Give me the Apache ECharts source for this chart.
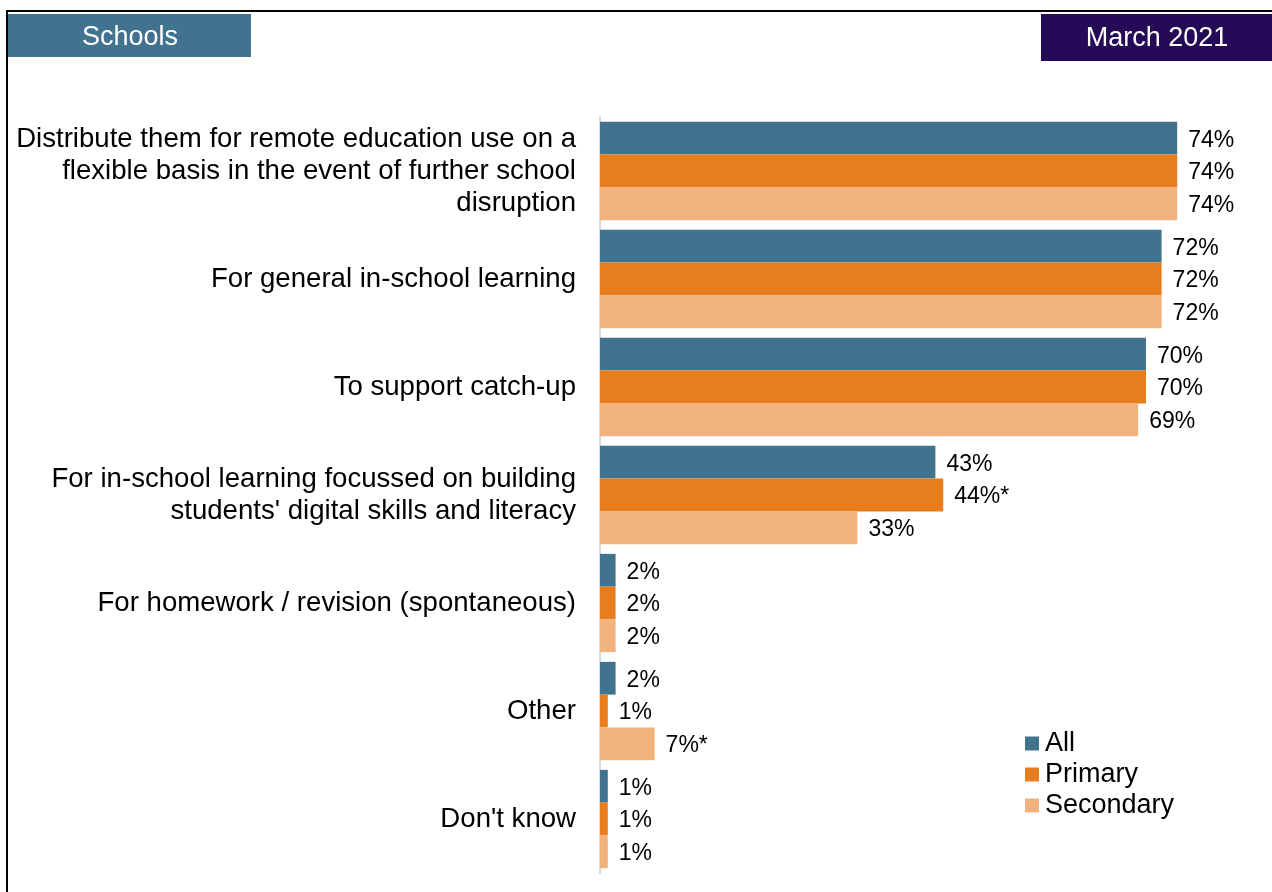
<!DOCTYPE html>
<html>
<head>
<meta charset="utf-8">
<script src="https://cdn.jsdelivr.net/npm/echarts@6/dist/echarts.min.js"></script>
<style>
  html, body { margin: 0; padding: 0; background: #fff; }
  #chart { width: 1272px; height: 892px; }
</style>
</head>
<body>
<div id="chart"></div>
<script>
// Uses of devices planned by schools
const categories = [
  'Distribute them for remote education use on a\nflexible basis in the event of further school\ndisruption',
  'For general in-school learning',
  'To support catch-up',
  'For in-school learning focussed on building\nstudents\' digital skills and literacy',
  'For homework / revision (spontaneous)',
  'Other',
  'Don\'t know'
];
const seriesNames = ['All', 'Primary', 'Secondary'];
const allValues = [74, 72, 70, 43, 2, 2, 1];
const primaryValues = [74, 72, 70, 44, 2, 1, 1];
const secondaryValues = [74, 72, 69, 33, 2, 7, 1];
// '*' marks a significant difference
const primaryNotes = ['', '', '', '*', '', '', ''];
const secondaryNotes = ['', '', '', '', '', '*', ''];
const allNotes = ['', '', '', '', '', '', ''];

const FONT = '"Liberation Sans", Arial, Helvetica, sans-serif';
const colors = ['#41738f', '#e87d1e', '#f2b27b'];

function makeSeries(name, values, notes, color) {
  return {
    name: name,
    type: 'bar',
    data: values,
    barGap: '0%',
    barCategoryGap: '9%',
    itemStyle: { color: color },
    label: {
      show: true,
      position: 'right',
      distance: 11,
      offset: [0, 2],
      color: '#000',
      fontFamily: FONT,
      fontSize: 23,
      formatter: p => p.value + '%' + notes[p.dataIndex]
    }
  };
}

const chart = echarts.init(document.getElementById('chart'), null, { renderer: 'canvas' });
chart.setOption({
  animation: false,
  backgroundColor: '#fff',
  color: colors,
  grid: { left: 600, top: 117, width: 624, height: 756 },
  xAxis: {
    type: 'value', min: 0, max: 80,
    show: false
  },
  yAxis: {
    type: 'category',
    inverse: true,
    data: categories,
    axisLine: { show: true, lineStyle: { color: '#d9d9d9', width: 2 } },
    axisTick: { show: false },
    axisLabel: {
      margin: 24,
      color: '#000',
      fontFamily: FONT,
      fontSize: 27.6,
      lineHeight: 32,
      align: 'right'
    }
  },
  legend: {
    orient: 'vertical',
    left: 1025,
    top: 730,
    padding: 0,
    itemWidth: 14,
    itemHeight: 14,
    itemGap: 4,
    icon: 'rect',
    textStyle: { fontFamily: FONT, fontSize: 27, lineHeight: 24, color: '#000', padding: [0, 0, 0, 1] },
    data: seriesNames
  },
  graphic: [
    {
      type: 'rect', z: -10, silent: true,
      shape: { x: 7, y: 11, width: 1300, height: 1000 },
      style: { fill: 'none', stroke: '#000', lineWidth: 2 }
    },
    {
      type: 'rect', silent: true,
      shape: { x: 8, y: 14, width: 243, height: 43 },
      style: { fill: '#41728f' }
    },
    {
      type: 'text', silent: true,
      x: 130, y: 38,
      style: { text: 'Schools', fill: '#fff', font: '27px ' + FONT, align: 'center', verticalAlign: 'middle' }
    },
    {
      type: 'rect', silent: true,
      shape: { x: 1041, y: 14, width: 240, height: 47 },
      style: { fill: '#250a57' }
    },
    {
      type: 'text', silent: true,
      x: 1157, y: 39,
      style: { text: 'March 2021', fill: '#fff', font: '27px ' + FONT, align: 'center', verticalAlign: 'middle' }
    }
  ],
  series: [
    makeSeries(seriesNames[0], allValues, allNotes, colors[0]),
    makeSeries(seriesNames[1], primaryValues, primaryNotes, colors[1]),
    makeSeries(seriesNames[2], secondaryValues, secondaryNotes, colors[2])
  ]
});
</script>
</body>
</html>
